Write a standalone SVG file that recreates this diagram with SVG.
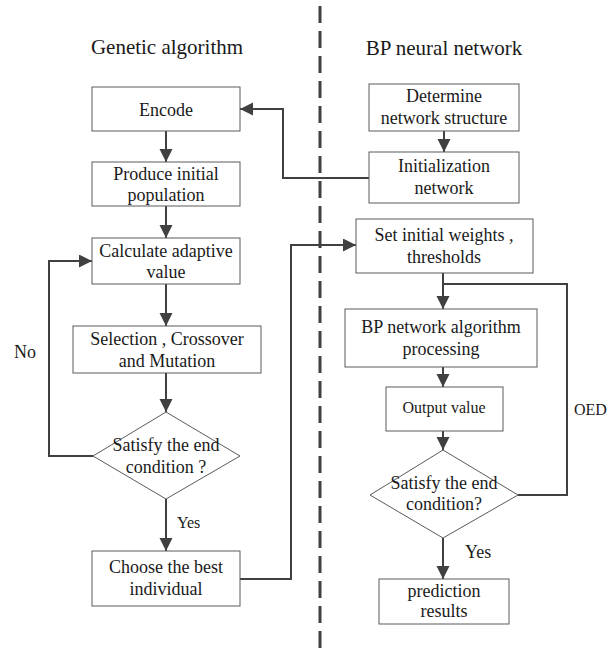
<svg xmlns="http://www.w3.org/2000/svg" width="607" height="648" viewBox="0 0 607 648">
<style>
.box{fill:#fff;stroke:#5a5a5a;stroke-width:1}
text{font-family:'Liberation Serif','Times New Roman','DejaVu Serif',serif}
.t{font-size:18px;fill:#1a1a1a;text-anchor:middle}
.s{font-size:16px}
.title{font-size:21px}
.lab{text-anchor:start}
.c{fill:none;stroke:#404040;stroke-width:2}
.a{marker-end:url(#ah)}
</style>
<defs>
<marker id="ah" markerUnits="userSpaceOnUse" markerWidth="14" markerHeight="14" refX="13" refY="6.5" orient="auto">
<path d="M0,0 L13,6.5 L0,13 z" fill="#404040"/>
</marker>
</defs>
<rect width="607" height="648" fill="#fff"/>
<line x1="320" y1="6" x2="320" y2="648" stroke="#404040" stroke-width="3" stroke-dasharray="17 8"/>
<text class="t title" x="167" y="54">Genetic algorithm</text>
<text class="t title" x="444" y="55">BP neural network</text>
<g id="connectors">
<path class="c a" d="M166,131 V162"/>
<path class="c a" d="M166,206 V238"/>
<path class="c a" d="M166,284 V326"/>
<path class="c a" d="M166,373 V412"/>
<path class="c a" d="M166,499 V551"/>
<path class="c a" d="M93,456 H49 V261 H92"/>
<path class="c a" d="M240,579 H291 V245 H356"/>
<path class="c a" d="M444,131 V152"/>
<path class="c a" d="M369,178 H283 V109 H240"/>
<path class="c a" d="M443,273 V309"/>
<path class="c a" d="M443,367 V387"/>
<path class="c a" d="M443,431 V450"/>
<path class="c" d="M518,495 H567 V284 H443"/>
<path class="c a" d="M443,538 V579"/>
<text class="t lab" x="14" y="358">No</text>
<text class="t lab s" x="177" y="528">Yes</text>
<text class="t lab" x="465" y="558">Yes</text>
<text class="t lab s" x="574" y="415">OED</text>
</g>
<g id="encode"><rect class="box" x="92" y="87" width="148" height="44"/><text class="t" x="166" y="116">Encode</text></g>
<g id="produce"><rect class="box" x="92" y="162" width="148" height="44"/><text class="t" x="166" y="180">Produce initial</text><text class="t" x="166" y="201">population</text></g>
<g id="calculate"><rect class="box" x="92" y="238" width="148" height="46"/><text class="t" x="166" y="257">Calculate adaptive</text><text class="t" x="166" y="278">value</text></g>
<g id="selection"><rect class="box" x="73" y="326" width="188" height="47"/><text class="t" x="167" y="345">Selection , Crossover</text><text class="t" x="167" y="367">and Mutation</text></g>
<g id="satisfy1"><polygon class="box" points="166,412 240,456 166,499 93,456"/><text class="t" x="166" y="451">Satisfy the end</text><text class="t" x="166" y="473">condition ?</text></g>
<g id="choose"><rect class="box" x="92" y="551" width="148" height="55"/><text class="t" x="166" y="573">Choose the best</text><text class="t" x="166" y="595">individual</text></g>
<g id="determine"><rect class="box" x="369" y="84" width="150" height="47"/><text class="t" x="444" y="102">Determine</text><text class="t" x="444" y="124">network structure</text></g>
<g id="init"><rect class="box" x="369" y="152" width="150" height="51"/><text class="t" x="444" y="172">Initialization</text><text class="t" x="444" y="194">network</text></g>
<g id="setweights"><rect class="box" x="356" y="219" width="177" height="54"/><text class="t" x="444" y="241">Set initial weights ,</text><text class="t" x="444" y="263">thresholds</text></g>
<g id="bpalg"><rect class="box" x="345" y="309" width="192" height="58"/><text class="t" x="441" y="333">BP network algorithm</text><text class="t" x="441" y="355">processing</text></g>
<g id="output"><rect class="box" x="386" y="387" width="117" height="44"/><text class="t s" x="444" y="413">Output value</text></g>
<g id="satisfy2"><polygon class="box" points="443,450 518,495 443,538 370,495"/><text class="t" x="444" y="489">Satisfy the end</text><text class="t" x="444" y="510">condition?</text></g>
<g id="prediction"><rect class="box" x="379" y="579" width="130" height="45"/><text class="t" x="444" y="597">prediction</text><text class="t" x="444" y="617">results</text></g>
</svg>
